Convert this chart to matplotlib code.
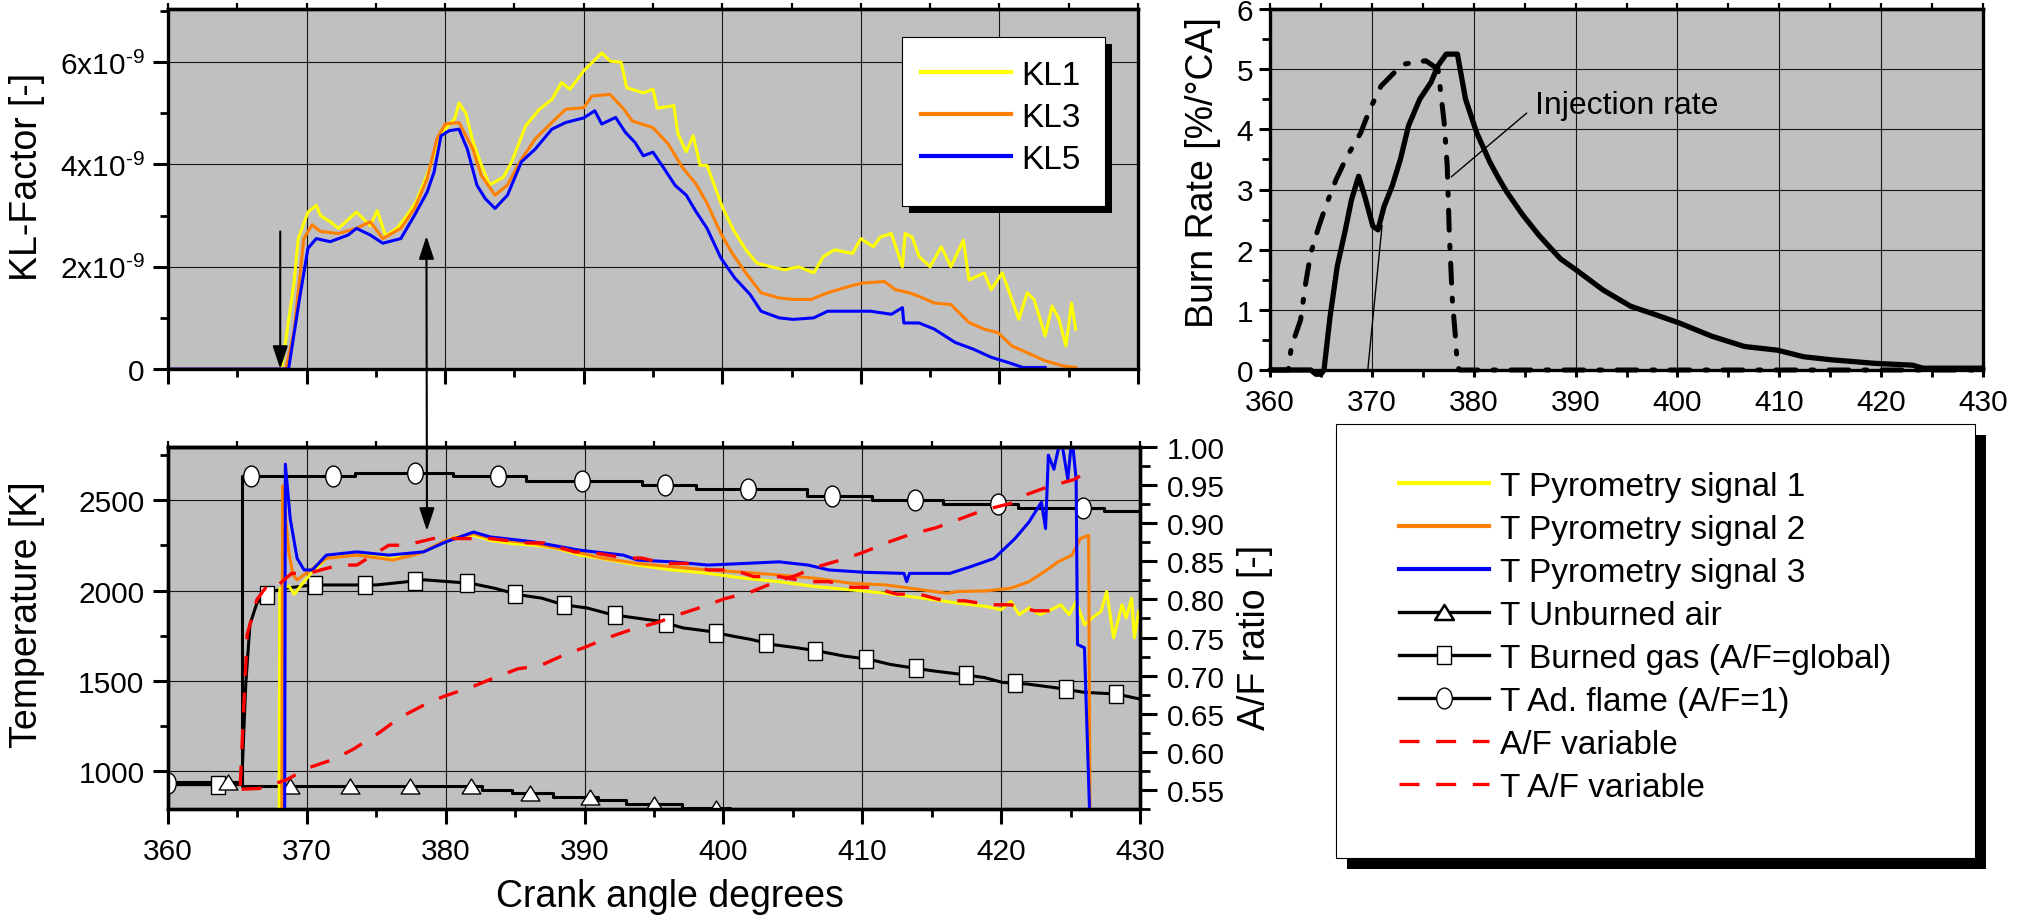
"""
Composite engine figure: KL-factor (top left), pyrometry temperatures with
A/F ratio (bottom left) and burn / injection rate (top right).
Values read off the original figure.
"""
import numpy as np
import matplotlib as mpl
mpl.use("Agg")
import matplotlib.pyplot as plt
from matplotlib.lines import Line2D
from matplotlib.patches import Rectangle, ConnectionPatch
from matplotlib.path import Path
from matplotlib.transforms import Affine2D
from matplotlib.ticker import MultipleLocator, FuncFormatter, FormatStrFormatter

W, H = 2031, 920

mpl.rcParams.update({
    "font.family": ["Liberation Sans", "DejaVu Sans"],
    "font.size": 21.5,
    "axes.linewidth": 2.4,
})

# ---------------------------------------------------------------- KL factor
# crank angle [deg] / KL factor in units of 1e-9
kl1_x = [360, 368.2, 369.1, 369.4, 370.1, 370.7, 371.0, 371.7, 372.3, 373.6,
         374.6, 375.1, 375.7, 376.5, 377.1, 377.9, 378.7, 379.7, 380.7, 381.0,
         381.5, 382.0, 382.6, 383.2, 384.2, 384.8, 385.8, 386.8, 387.7, 388.4,
         389.0, 390.0, 390.6, 391.3, 391.9, 392.7, 393.1, 394.3, 395.0, 395.3,
         396.5, 396.8, 397.4, 397.9, 398.4, 398.9, 400.0, 400.8, 401.7, 402.5,
         403.5, 404.5, 405.5, 406.6, 407.3, 408.1, 409.4, 410.0, 410.9, 411.4,
         412.2, 413.0, 413.2, 413.7, 414.2, 415.0, 415.8, 416.5, 417.4, 417.8,
         418.9, 419.4, 420.2, 420.9, 421.4, 422.0, 422.5, 423.3, 423.8, 424.3,
         424.8, 425.2, 425.5]
kl1_y = [0, 0, 1.7, 2.55, 3.07, 3.2, 3.0, 2.88, 2.75, 3.07,
         2.8, 3.1, 2.6, 2.75, 2.95, 3.27, 3.8, 4.6, 4.9, 5.2,
         5.0, 4.45, 4.0, 3.6, 3.75, 4.05, 4.75, 5.08, 5.27, 5.6,
         5.47, 5.83, 5.99, 6.18, 6.02, 6.0, 5.5, 5.4, 5.47, 5.1,
         5.15, 4.6, 4.25, 4.56, 3.98, 3.98, 3.17, 2.72, 2.33, 2.07,
         2.0, 1.94, 2.0, 1.88, 2.2, 2.33, 2.26, 2.55, 2.39, 2.58,
         2.65, 2.0, 2.65, 2.58, 2.2, 2.0, 2.39, 2.0, 2.52, 1.74,
         1.88, 1.55, 1.88, 1.36, 0.97, 1.49, 1.36, 0.65, 1.23, 0.97,
         0.45, 1.29, 0.78]

kl3_x = [360, 368.5, 369.1, 369.8, 370.4, 371.0, 372.3, 373.6, 374.6, 375.5,
         376.8, 377.8, 378.7, 379.4, 380.0, 381.0, 382.0, 382.6, 383.6, 384.5,
         385.5, 386.5, 387.7, 388.7, 390.0, 390.6, 391.9, 392.9, 393.5, 395.0,
         396.1, 397.1, 398.1, 398.9, 399.9, 400.7, 401.7, 402.8, 404.1, 405.1,
         406.4, 407.6, 409.2, 410.1, 411.7, 412.5, 413.5, 414.2, 415.3, 416.5,
         417.8, 418.9, 419.9, 420.9, 422.0, 423.3, 424.6, 425.5]
kl3_y = [0, 0, 0.74, 2.55, 2.82, 2.69, 2.65, 2.75, 2.88, 2.55,
         2.75, 3.14, 3.72, 4.5, 4.79, 4.82, 4.3, 3.79, 3.4, 3.6,
         4.1, 4.5, 4.82, 5.08, 5.11, 5.34, 5.37, 5.08, 4.85, 4.72,
         4.4, 3.95, 3.62, 3.24, 2.65, 2.27, 1.88, 1.49, 1.39, 1.36,
         1.36, 1.49, 1.62, 1.68, 1.71, 1.55, 1.49, 1.42, 1.29, 1.26,
         0.91, 0.78, 0.71, 0.45, 0.32, 0.16, 0.06, 0.03]

kl5_x = [360, 368.7, 369.5, 370.1, 370.7, 371.7, 373.0, 373.6, 374.6, 375.5,
         376.8, 377.8, 378.7, 379.2, 379.7, 380.3, 381.0, 381.6, 382.3, 382.9,
         383.6, 384.5, 385.5, 386.5, 387.7, 388.7, 390.0, 390.8, 391.3, 392.3,
         393.0, 393.7, 394.3, 395.0, 395.8, 396.6, 397.4, 398.1, 398.9, 399.9,
         400.9, 402.0, 402.8, 404.1, 405.1, 406.6, 407.6, 409.2, 410.7, 412.2,
         413.0, 413.1, 414.2, 415.3, 416.8, 418.1, 419.4, 420.6, 421.7, 423.3]
kl5_y = [0, 0, 1.39, 2.36, 2.55, 2.49, 2.62, 2.75, 2.62, 2.46,
         2.55, 3.01, 3.46, 3.85, 4.56, 4.66, 4.69, 4.3, 3.59, 3.33,
         3.14, 3.4, 4.05, 4.3, 4.69, 4.82, 4.91, 5.05, 4.79, 4.92,
         4.63, 4.43, 4.17, 4.24, 3.92, 3.59, 3.4, 3.08, 2.75, 2.17,
         1.78, 1.46, 1.13, 1.0, 0.97, 1.0, 1.13, 1.13, 1.13, 1.07,
         1.2, 0.9, 0.9, 0.78, 0.52, 0.39, 0.23, 0.13, 0.03, 0.03]

# ---------------------------------------------------------- temperatures [K]
flame_x = [360, 365.3, 373.5, 380.5, 385.8, 394.1, 398.0, 406.0, 410.7,
           415.8, 421.2, 427.4, 430]
flame_t = [935, 2636, 2652, 2636, 2608, 2582, 2560, 2523, 2502,
           2480, 2456, 2443, 2443]
flame_marks = [360.0, 366.0, 371.9, 377.8, 383.8, 389.8, 395.8, 401.8,
               407.8, 413.8, 419.8, 425.9]

burned_x = [360, 365.3, 365.4, 365.6, 365.9, 366.4, 366.9, 367.5, 368.5, 370.4,
            375.0, 378.5, 381.8, 383.5, 385.3, 386.9, 388.5, 390.2, 392.0, 393.7,
            395.4, 397.1, 398.9, 400.7, 402.0, 403.5, 405.3, 406.8, 408.7, 410.5,
            412.0, 413.5, 415.1, 417.0, 418.8, 420.1, 421.9, 423.8, 426.0, 428.3,
            430]
burned_t = [925, 925, 1105, 1481, 1811, 1930, 1967, 1995, 2013, 2031,
            2031, 2059, 2040, 2013, 1976, 1958, 1921, 1903, 1866, 1848,
            1830, 1793, 1775, 1747, 1729, 1701, 1683, 1665, 1637, 1619,
            1591, 1573, 1555, 1537, 1518, 1491, 1482, 1463, 1436, 1427,
            1399]
burned_marks = [363.6, 367.1, 370.6, 374.2, 377.8, 381.5, 385.0, 388.5, 392.2,
                395.9, 399.5, 403.1, 406.6, 410.3, 413.9, 417.5, 421.0, 424.7,
                428.3]

air_x = [360, 365.3, 382.6, 384.8, 387.7, 391.0, 393.0, 397.0, 400.5, 410, 430]
air_t = [937, 915, 896, 877, 859, 840, 815, 795, 775, 740, 700]
air_marks = [364.3, 368.75, 373.1, 377.4, 381.8, 386.1, 390.4, 395.0, 399.5]

pyro1_x = [368.0, 368.05, 368.7, 369.1, 369.8, 370.4, 371.4, 373.0, 374.6, 376.2,
           378.1, 379.4, 380.7, 382.0, 383.2, 384.8, 386.4, 388.0, 389.7, 391.2,
           393.8, 396.3, 398.9, 401.5, 404.0, 406.6, 409.2, 411.7, 414.3, 416.9,
           418.9, 420.0, 420.7, 421.3, 422.0, 422.8, 423.6, 424.3, 424.9, 425.4,
           426.0, 426.7, 427.2, 427.6, 428.1, 428.7, 429.0, 429.4, 429.6, 429.9]
pyro1_t = [700, 2010, 2025, 1980, 2050, 2104, 2178, 2196, 2196, 2178,
           2205, 2251, 2297, 2306, 2278, 2260, 2251, 2233, 2196, 2178,
           2141, 2114, 2095, 2068, 2049, 2022, 2004, 1985, 1958, 1930,
           1912, 1894, 1940, 1866, 1903, 1866, 1894, 1921, 1866, 1940,
           1811, 1857, 1885, 1995, 1738, 1921, 1848, 1958, 1738, 1885]

pyro2_x = [368.2, 368.25, 368.7, 369.0, 369.3, 370.1, 371.4, 373.6, 376.2, 378.1,
           380.0, 382.0, 383.2, 386.4, 389.6, 391.2, 393.8, 396.3, 398.9, 401.5,
           404.0, 406.6, 409.2, 411.7, 414.3, 416.1, 416.9, 418.9, 420.7, 422.0,
           423.1, 424.1, 425.1, 425.7, 426.3, 426.4]
pyro2_t = [700, 2580, 2214, 2086, 2059, 2104, 2178, 2196, 2169, 2205,
           2278, 2315, 2288, 2260, 2210, 2181, 2150, 2132, 2114, 2101,
           2086, 2068, 2040, 2031, 2004, 1985, 1995, 1998, 2013, 2049,
           2104, 2159, 2196, 2288, 2306, 700]

pyro3_x = [368.4, 368.45, 368.8, 369.3, 369.8, 370.4, 371.4, 373.6, 375.9, 378.4,
           380.0, 382.0, 383.2, 386.4, 389.6, 392.8, 393.8, 396.3, 398.9, 401.5,
           404.0, 406.1, 407.6, 410.2, 413.0, 413.2, 413.4, 416.3, 417.8, 419.5,
           421.0, 422.0, 422.9, 423.2, 423.4, 423.8, 424.3, 424.8, 425.1, 425.4,
           425.5, 426.0, 426.4]
pyro3_t = [700, 2700, 2398, 2178, 2114, 2114, 2196, 2214, 2196, 2214,
           2269, 2324, 2297, 2269, 2224, 2196, 2169, 2159, 2141, 2150,
           2159, 2141, 2114, 2101, 2095, 2049, 2095, 2095, 2132, 2178,
           2288, 2379, 2489, 2343, 2750, 2672, 2850, 2617, 2850, 2617,
           1701, 1683, 700]

t_af_x = [365.2, 365.5, 365.7, 366.4, 367.0, 367.4, 368.9, 370.1, 372.3, 373.6,
          375.9, 377.1, 379.1, 380.4, 382.4, 383.2, 385.8, 387.1, 389.3, 390.3,
          392.9, 394.1, 395.8, 397.4, 398.9, 400.7, 402.2, 404.0, 406.1, 407.6,
          409.2, 410.7, 412.5, 414.1, 415.9, 417.4, 419.2, 420.7, 422.4, 424.1]
t_af_t = [919, 1427, 1756, 1949, 2013, 1995, 2095, 2095, 2141, 2141,
          2251, 2251, 2288, 2288, 2288, 2288, 2264, 2264, 2214, 2214,
          2180, 2180, 2150, 2150, 2114, 2114, 2077, 2077, 2049, 2049,
          2018, 2018, 1980, 1980, 1943, 1943, 1921, 1921, 1888, 1888]

# A/F ratio (right axis)
af_x = [365.3, 366.6, 368.5, 370.1, 371.9, 373.3, 375.2, 376.7, 378.8, 379.9,
        382.0, 383.2, 385.2, 386.8, 388.5, 390.0, 391.7, 393.3, 395.3, 396.6,
        398.6, 400.1, 402.0, 403.5, 405.3, 406.6, 408.7, 410.1, 412.0, 413.4,
        415.3, 416.8, 418.7, 420.7, 421.9, 423.4, 425.2, 425.8]
af_ratio = [0.551, 0.552, 0.563, 0.579, 0.590, 0.603, 0.625, 0.645, 0.665, 0.673,
            0.686, 0.695, 0.709, 0.713, 0.727, 0.737, 0.750, 0.760, 0.770, 0.779,
            0.791, 0.801, 0.810, 0.821, 0.832, 0.842, 0.853, 0.862, 0.876, 0.885,
            0.894, 0.904, 0.917, 0.926, 0.938, 0.948, 0.957, 0.963]

# ------------------------------------------------------- burn rate [%/degCA]
burn_x = [360, 364.0, 364.5, 365.0, 365.3, 365.9, 366.6, 367.4, 368.0, 368.7,
          369.3, 370.1, 370.6, 371.2, 372.0, 372.8, 373.6, 374.7, 375.8, 376.5,
          377.3, 378.4, 379.2, 380.3, 381.6, 382.4, 383.2, 384.8, 386.4, 388.5,
          390.0, 392.7, 395.4, 397.5, 400.2, 403.4, 406.6, 409.8, 412.4, 415.1,
          419.4, 423.1, 424.1, 430]
burn_y = [0, 0, -0.07, -0.07, 0.0, 0.89, 1.72, 2.33, 2.83, 3.22,
          2.89, 2.39, 2.33, 2.72, 3.06, 3.5, 4.06, 4.5, 4.78, 5.06,
          5.25, 5.25, 4.5, 3.94, 3.45, 3.2, 2.97, 2.58, 2.24, 1.85,
          1.67, 1.33, 1.06, 0.94, 0.78, 0.56, 0.39, 0.33, 0.22, 0.17,
          0.11, 0.08, 0.03, 0.03]
thin_x = [369.6, 371.0]
thin_y = [0.0, 2.4]
inj_x = [360, 361.8, 362.1, 363.0, 363.5, 364.0, 364.8, 365.6, 366.5, 367.6,
         368.9, 369.8, 370.9, 373.0, 375.3, 376.5, 377.1, 377.4, 377.6, 377.9,
         378.2, 378.4, 378.6, 430]
inj_y = [0, 0, 0.39, 0.83, 1.44, 1.94, 2.39, 2.78, 3.17, 3.56,
         3.94, 4.33, 4.72, 5.08, 5.14, 5.0, 4.11, 3.39, 2.28, 1.17,
         0.56, 0.06, 0, 0]

YELLOW, ORANGE, BLUE, RED = "#ffff00", "#ff8000", "#0000ff", "#ff0000"
GREY = "#c0c0c0"

# tall marker shapes as in the original
ELLIPSE = Path.unit_circle().transformed(Affine2D().scale(0.75, 1.0))
TALL_BOX = Path([(-0.4, -0.5), (0.4, -0.5), (0.4, 0.5), (-0.4, 0.5), (0, 0)], closed=True)
TRIANGLE = Path([(-0.5, -0.4), (0.5, -0.4), (0.0, 0.4), (0, 0)], closed=True)


def px_box(x0, y0, x1, y1):
    """pixel box (top-left origin) -> figure fraction rect"""
    return [x0 / W, 1 - y1 / H, (x1 - x0) / W, (y1 - y0) / H]


def step_at(xs, ys, q):
    idx = np.searchsorted(np.asarray(xs), np.asarray(q), side="right") - 1
    return np.asarray(ys)[np.clip(idx, 0, len(ys) - 1)]


def style(ax, xmin=5, ymin=None):
    ax.set_facecolor(GREY)
    for s in ax.spines.values():
        s.set_linewidth(2.4)
    ax.grid(True, which="major", color="#151515", lw=0.8)
    ax.set_axisbelow(True)
    ax.xaxis.set_minor_locator(MultipleLocator(xmin))
    if ymin is not None:
        ax.yaxis.set_minor_locator(MultipleLocator(ymin))
    ax.tick_params(which="major", direction="out", length=11, width=2.2,
                   labelsize=21.5, pad=6)
    ax.tick_params(which="minor", direction="out", length=6, width=2.0)
    top = ax.secondary_xaxis("top")
    top.xaxis.set_major_locator(MultipleLocator(xmin))
    top.tick_params(direction="out", length=4, width=1.6, labeltop=False)
    top.spines["top"].set_linewidth(2.4)


def boxed_legend(fig, box, shadow, handles, labels, anchor, **kw):
    x0, y0, x1, y1 = box
    fig.add_artist(Rectangle(((x0 + shadow) / W, 1 - (y1 + shadow) / H),
                             (x1 - x0) / W, (y1 - y0) / H,
                             transform=fig.transFigure, fc="black", ec="none",
                             zorder=10))
    fig.add_artist(Rectangle((x0 / W, 1 - y1 / H), (x1 - x0) / W, (y1 - y0) / H,
                             transform=fig.transFigure, fc="white", ec="black",
                             lw=0.8, zorder=11))
    leg = fig.legend(handles, labels, loc="upper left",
                     bbox_to_anchor=(anchor[0] / W, 1 - anchor[1] / H),
                     bbox_transform=fig.transFigure, frameon=False,
                     borderpad=0, borderaxespad=0, fontsize=24, **kw)
    leg.set_zorder(12)
    return leg


HYPHEN = "\u2010"


def kl_label(v, pos):
    if abs(v) < 1e-6:
        return "0"
    return "$\\mathregular{%dx10^{%s9}}$" % (round(v), HYPHEN)


def main():
    fig = plt.figure(figsize=(W / 100, H / 100), dpi=100)
    ax1 = fig.add_axes(px_box(168, 10, 1138, 370))
    ax2 = fig.add_axes(px_box(168, 448, 1140, 810))
    ax3 = fig.add_axes(px_box(1270, 10, 1983, 371))

    # ---------------- KL factor
    style(ax1, 5, 1)
    ax1.plot(kl1_x, kl1_y, color=YELLOW, lw=2.2)
    ax1.plot(kl3_x, kl3_y, color=ORANGE, lw=2.2)
    ax1.plot(kl5_x, kl5_y, color=BLUE, lw=2.2)
    ax1.set_xlim(360, 430)
    ax1.set_ylim(0, 7.04)
    ax1.xaxis.set_major_locator(MultipleLocator(10))
    ax1.yaxis.set_major_locator(MultipleLocator(2))
    ax1.yaxis.set_major_formatter(FuncFormatter(kl_label))
    ax1.tick_params(labelbottom=False)
    ax1.set_ylabel("KL-Factor [-]", fontsize=27)
    ax1.yaxis.set_label_coords(-0.127, 0.536)
    ax1.annotate("", xy=(368.1, 0.0), xytext=(368.1, 2.69),
                 arrowprops=dict(arrowstyle="-|>,head_length=1.0,head_width=0.33",
                                 color="k", lw=1.5, shrinkA=0, shrinkB=0,
                                 mutation_scale=14))

    # ---------------- temperatures
    style(ax2, 5, 250)
    ax2.plot(flame_x, flame_t, color="k", lw=2.2, drawstyle="steps-post", zorder=2)
    ax2.plot(burned_x, burned_t, color="k", lw=2.2, zorder=2)
    ax2.plot(air_x, air_t, color="k", lw=2.2, drawstyle="steps-post", zorder=2)
    ax2.plot(flame_marks, step_at(flame_x, flame_t, flame_marks), ls="none",
             marker=ELLIPSE, ms=15, mfc="white", mec="k", mew=1.0, zorder=3)
    ax2.plot(burned_marks, np.interp(burned_marks, burned_x, burned_t), ls="none",
             marker=TALL_BOX, ms=12.5, mfc="white", mec="k", mew=1.0, zorder=3)
    ax2.plot(air_marks, step_at(air_x, air_t, air_marks), ls="none",
             marker=TRIANGLE, ms=13.5, mfc="white", mec="k", mew=1.0, zorder=3)
    ax2.plot(pyro1_x, pyro1_t, color=YELLOW, lw=2.2, zorder=4)
    ax2.plot(pyro2_x, pyro2_t, color=ORANGE, lw=2.2, zorder=5)
    ax2.plot(pyro3_x, pyro3_t, color=BLUE, lw=2.2, zorder=6)
    ax2.plot(t_af_x, t_af_t, color=RED, lw=2.4, dashes=(6, 5), zorder=7)
    ax2.set_xlim(360, 430)
    ax2.set_ylim(790, 2795)
    ax2.xaxis.set_major_locator(MultipleLocator(10))
    ax2.yaxis.set_major_locator(MultipleLocator(500))
    ax2.tick_params(axis="x", pad=9)
    ax2.set_ylabel("Temperature [K]", fontsize=27)
    ax2.yaxis.set_label_coords(-0.1265, 0.539)
    ax2.set_xlabel("Crank angle degrees", fontsize=27)
    ax2.xaxis.set_label_coords(0.516, -0.19)

    twin = ax2.twinx()
    twin.plot(af_x, af_ratio, color=RED, lw=2.4, dashes=(6, 5))
    twin.set_ylim(0.525, 1.0)
    twin.yaxis.set_major_locator(MultipleLocator(0.05))
    twin.yaxis.set_minor_locator(MultipleLocator(0.025))
    twin.yaxis.set_major_formatter(FormatStrFormatter("%.2f"))
    twin.tick_params(which="major", direction="out", length=12, width=2.2,
                     labelsize=21.5, pad=7)
    twin.tick_params(which="minor", direction="out", length=7, width=2.0)
    for s in twin.spines.values():
        s.set_linewidth(2.4)
    twin.set_ylabel("A/F ratio [-]", fontsize=27)
    twin.yaxis.set_label_coords(1.0998, 0.478)

    # double arrow linking both panels
    con = ConnectionPatch(xyA=(378.65, 2.6), coordsA=ax1.transData,
                          xyB=(378.65, 2330), coordsB=ax2.transData,
                          arrowstyle="<|-|>,head_length=1.0,head_width=0.33",
                          mutation_scale=14, lw=1.5, color="k",
                          shrinkA=0, shrinkB=0, zorder=9)
    fig.add_artist(con)

    # ---------------- burn rate
    style(ax3, 5, 0.5)
    ax3.plot(burn_x, burn_y, color="k", lw=3.8, solid_joinstyle="round",
             solid_capstyle="round", clip_on=False, zorder=4)
    ax3.plot(thin_x, thin_y, color="k", lw=1.0)
    ax3.plot(inj_x, inj_y, color="k", lw=3.6, dashes=(4, 3, 0.6, 3),
             dash_capstyle="round", clip_on=False, zorder=4)
    ax3.set_xlim(360, 430)
    ax3.set_ylim(0, 6)
    ax3.xaxis.set_major_locator(MultipleLocator(10))
    ax3.yaxis.set_major_locator(MultipleLocator(1))
    ax3.tick_params(which="major", length=8, pad=4)
    ax3.tick_params(axis="x", which="both", length=5, pad=8)
    ax3.set_ylabel("Burn Rate [%/°CA]", fontsize=27)
    ax3.yaxis.set_label_coords(-0.0687, 0.551)
    ax3.annotate("", xy=(377.8, 3.21), xytext=(385.2, 4.27),
                 arrowprops=dict(arrowstyle="-", lw=1.0, color="k",
                                 shrinkA=0, shrinkB=0))
    ax3.text(386.0, 4.4, "Injection rate", fontsize=23, ha="left", va="center")

    # ---------------- legends
    kl_handles = [Line2D([], [], color=c, lw=3.0) for c in (YELLOW, ORANGE, BLUE)]
    boxed_legend(fig, (902, 38, 1105, 207), 7, kl_handles, ["KL1", "KL3", "KL5"],
                 (921, 61), handlelength=2.7, handletextpad=0.3, labelspacing=0.33)

    big_handles = [
        Line2D([], [], color=YELLOW, lw=3.0),
        Line2D([], [], color=ORANGE, lw=3.0),
        Line2D([], [], color=BLUE, lw=3.0),
        Line2D([], [], color="k", lw=2.4, marker=TRIANGLE, ms=13.5, mfc="white",
               mec="k", mew=1.8),
        Line2D([], [], color="k", lw=2.4, marker=TALL_BOX, ms=13, mfc="white",
               mec="k", mew=1.0),
        Line2D([], [], color="k", lw=2.4, marker=ELLIPSE, ms=15, mfc="white",
               mec="k", mew=1.0),
        Line2D([], [], color=RED, lw=2.4, dashes=(6, 5)),
        Line2D([], [], color=RED, lw=2.4, dashes=(6, 5)),
    ]
    big_labels = ["T Pyrometry signal 1", "T Pyrometry signal 2",
                  "T Pyrometry signal 3", "T Unburned air",
                  "T Burned gas (A/F=global)", "T Ad. flame (A/F=1)",
                  "A/F variable", "T A/F variable"]
    boxed_legend(fig, (1336, 425, 1975, 859), 11, big_handles, big_labels,
                 (1399, 472), handlelength=2.7, handletextpad=0.33,
                 labelspacing=0.36, numpoints=1)

    fig.savefig("out.png", dpi=100)


if __name__ == "__main__":
    main()
